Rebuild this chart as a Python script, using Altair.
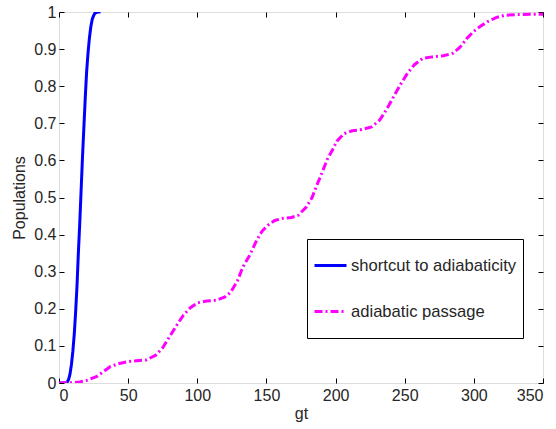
import altair as alt
import pandas as pd

# Shortcut to adiabaticity (blue, solid)
sta_x = [0, 5, 6, 7, 8, 9, 10, 11, 12, 13, 14, 15, 16, 17, 18, 19, 20, 21, 22, 23, 24, 25, 26, 28, 30]
sta_y = [0, 0, 0.003, 0.01, 0.025, 0.05, 0.085, 0.13, 0.19, 0.26, 0.35, 0.43, 0.52, 0.61, 0.69, 0.77,
         0.84, 0.89, 0.93, 0.96, 0.98, 0.99, 0.997, 1.0, 1.0]

# Adiabatic passage (magenta, dash-dot)
ap_x = [0, 10, 15, 20, 27, 32, 37, 43, 49, 56, 63, 70, 75, 80, 85, 90, 95, 100, 107, 114, 120, 124,
        129, 133, 138, 143, 147, 151, 156, 162, 168, 173, 179, 183, 186, 190, 194, 198, 201, 206, 212,
        219, 226, 232, 237, 242, 247, 252, 257, 263, 270, 278, 285, 290, 295, 300, 305, 310, 316, 322,
        330, 340, 350]
ap_y = [0, 0.001, 0.003, 0.007, 0.017, 0.03, 0.044, 0.052, 0.057, 0.06, 0.062, 0.075, 0.095, 0.125,
        0.155, 0.183, 0.203, 0.216, 0.221, 0.223, 0.232, 0.244, 0.275, 0.313, 0.345, 0.385, 0.41, 0.425,
        0.438, 0.444, 0.446, 0.452, 0.475, 0.5, 0.529, 0.565, 0.603, 0.63, 0.652, 0.672, 0.68, 0.683,
        0.69, 0.709, 0.738, 0.772, 0.805, 0.835, 0.858, 0.875, 0.879, 0.882, 0.889, 0.905, 0.929, 0.948,
        0.962, 0.974, 0.985, 0.991, 0.993, 0.994, 0.994]

series_names = ["shortcut to adiabaticity", "adiabatic passage"]
series_colors = ["#0000FF", "#FF00FF"]
x_ticks = [0, 50, 100, 150, 200, 250, 300, 350]
y_ticks = [0, 0.1, 0.2, 0.3, 0.4, 0.5, 0.6, 0.7, 0.8, 0.9, 1.0]

df = pd.concat([
    pd.DataFrame({"gt": sta_x, "pop": sta_y, "series": series_names[0]}),
    pd.DataFrame({"gt": ap_x, "pop": ap_y, "series": series_names[1]}),
], ignore_index=True)

FONT = "Liberation Sans"
TXT = "#262626"
FS = 16

xscale = alt.Scale(domain=[0, 350], nice=False)
yscale = alt.Scale(domain=[0, 1], nice=False)

common_axis = dict(domain=False, grid=False, ticks=True, tickSize=5, tickColor="black",
                   tickWidth=1, offset=-5, labelFont=FONT, labelFontSize=FS, labelColor=TXT,
                   titleFont=FONT, titleFontSize=FS, titleColor=TXT, titleFontWeight="normal")

main = alt.Chart(df).mark_line(strokeWidth=3, clip=True).encode(
    x=alt.X("gt:Q", scale=xscale,
            axis=alt.Axis(orient="bottom", values=x_ticks, format="d", title="gt",
                          labelPadding=4, titlePadding=2, **common_axis)),
    y=alt.Y("pop:Q", scale=yscale,
            axis=alt.Axis(orient="left", values=y_ticks, format="~g", title="Populations",
                          labelPadding=3, titlePadding=6, **common_axis)),
    color=alt.Color("series:N", sort=series_names,
                    scale=alt.Scale(domain=series_names, range=series_colors),
                    legend=alt.Legend(title=None, orient="none", legendX=248, legendY=227,
                                      symbolType="stroke", symbolSize=1024, symbolStrokeWidth=3,
                                      labelFont=FONT, labelFontSize=16.6, labelColor=TXT,
                                      labelOffset=3, rowPadding=5, padding=6, clipHeight=41,
                                      strokeColor="black", fillColor="white",
                                      labelLimit=400)),
    strokeDash=alt.StrokeDash("series:N", sort=series_names,
                              scale=alt.Scale(domain=series_names, range=[[1, 0], [8, 3, 2, 3]]),
                              legend=None),
)

mirror = alt.Chart(df).mark_line(opacity=0).encode(
    x=alt.X("gt:Q", scale=xscale,
            axis=alt.Axis(orient="top", values=x_ticks, labels=False, title=None, **common_axis)),
    y=alt.Y("pop:Q", scale=yscale,
            axis=alt.Axis(orient="right", values=y_ticks, labels=False, title=None, **common_axis)),
    detail="series:N",
)

chart = alt.layer(main, mirror).properties(
    width=484, height=371,
    autosize=alt.AutoSizeParams(type="none"),
    padding={"left": 59, "top": 12, "right": 13, "bottom": 46},
).configure_view(stroke="black", strokeWidth=1).configure_legend(
    strokeWidth=2
).configure(background="white")

chart.save("out.html", embed_options={"renderer": "svg", "actions": False})
